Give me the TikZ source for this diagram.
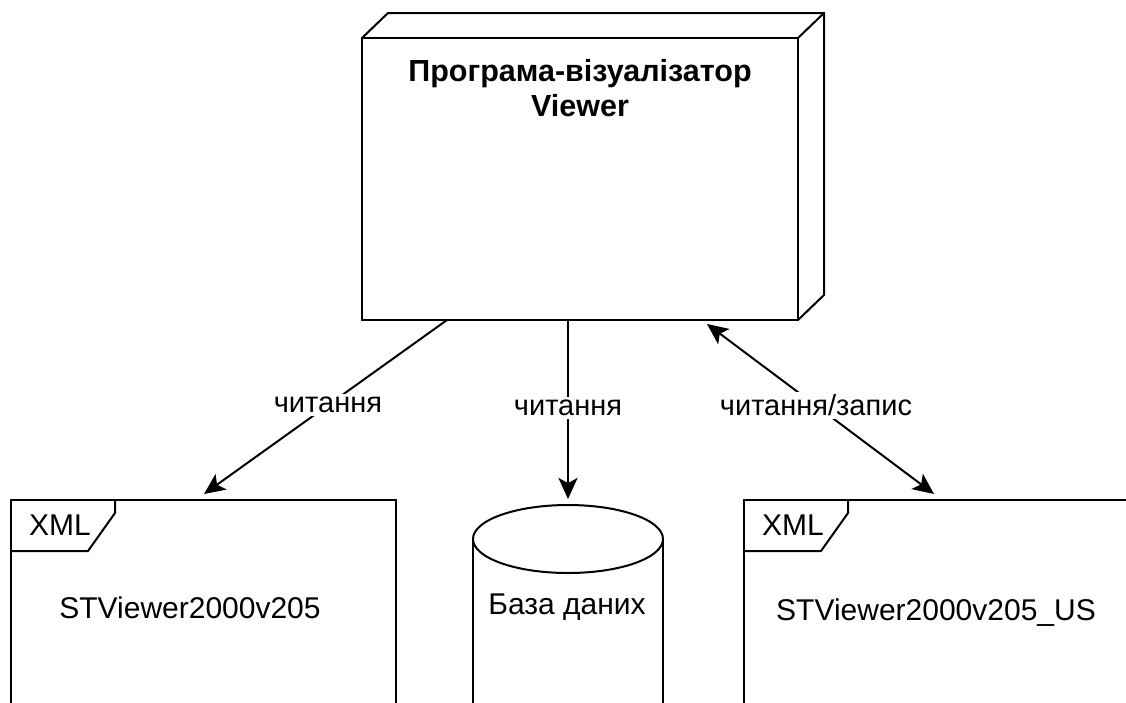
\documentclass[tikz,border=0pt]{standalone}
\usepackage{fontspec}
\setmainfont{Liberation Sans}
\usetikzlibrary{arrows.meta,calc}

\tikzset{
  frame/.style={draw, line width=2pt, inner sep=0pt, outer sep=0pt},
  edge/.style={line width=2pt, line join=miter},
  txt/.style={inner sep=0pt, font=\fontsize{30}{36}\selectfont},
  titletxt/.style={inner sep=0pt, align=center, font=\fontsize{30.5}{35}\selectfont\bfseries},
  tip/.tip={Stealth[length=21pt,width=19pt,inset=5pt]},
  flow/.style={line width=2pt, -tip},
  biflow/.style={line width=2pt, tip-tip},
  flowlabel/.style={fill=white, inner sep=3pt, font=\fontsize{29}{34}\selectfont},
}

\begin{document}
\begin{tikzpicture}[x=1pt,y=-1pt]
\useasboundingbox (0,0) rectangle (1126,702);
\clip (0,0) rectangle (1126,702);
\fill[white] (0,0) rectangle (1126,702);

% application node (3D box)
\node[frame, anchor=north west, minimum width=436pt, minimum height=282pt] (viewer) at (362,38) {};
\draw[edge]
  (viewer.north west) -- ++(26,-25) -- ++(436,0) -- ++(0,282) -- (viewer.south east);
\draw[edge] (viewer.north east) -- ++(26,-25);
\node[titletxt] (title) at (580,88) {Програма-візуалізатор\\Viewer};

% XML file on the left
\node[frame, anchor=north west, minimum width=385pt, minimum height=260pt] (xml1) at (11,500) {};
\draw[edge]
  (xml1.north west) ++(104,0) -- ++(0,13) -- ++(-27,38) -- ++(-77,0);
\node[txt] (xml1tag) at ($(xml1.north west)+(49,25)$) {XML};
\node[txt] (xml1name) at (190,608) {STViewer2000v205};

% database
\node[inner sep=0pt, minimum width=190pt, minimum height=240pt, anchor=north] (db) at (568,505) {};
\draw[edge] ($(db.north)+(0,34)$) ellipse [x radius=95, y radius=34];
\draw[edge] ($(db.north west)+(0,34)$) -- (db.south west);
\draw[edge] ($(db.north east)+(0,34)$) -- (db.south east);
\node[txt] (dbname) at (567,607) {База даних};

% XML file on the right
\node[frame, anchor=north west, minimum width=400pt, minimum height=260pt] (xml2) at (744,500) {};
\draw[edge]
  (xml2.north west) ++(104,0) -- ++(0,13) -- ++(-27,38) -- ++(-77,0);
\node[txt] (xml2tag) at ($(xml2.north west)+(49,25)$) {XML};
\node[txt] (xml2name) at (936,613) {STViewer2000v205\_US};

% connectors
\draw[flow] ($(viewer.south)+(-133,0)$) -- ($(xml1.north)+(0.5,-6)$)
  node[flowlabel, pos=0.49] {читання};
\draw[flow] ($(viewer.south)+(-12,0)$) -- ($(db.north)+(0,-6)$)
  node[flowlabel, pos=0.49] {читання};
\draw[biflow] ($(viewer.south)+(127,4)$) -- ($(xml2.north west)+(190,-6)$)
  node[flowlabel, pos=0.48] {читання/запис};
\end{tikzpicture}
\end{document}
